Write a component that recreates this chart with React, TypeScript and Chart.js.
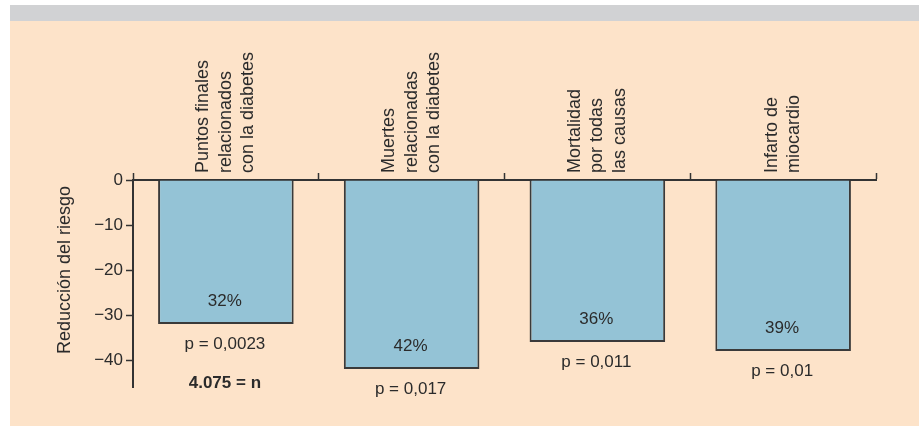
import React, { useEffect, useRef } from "react";
import { Chart, registerables } from "chart.js";

Chart.register(...registerables);

// ---- Data ----
const categories: string[][] = [
  ["Puntos finales", "relacionados", "con la diabetes"],
  ["Muertes", "relacionadas", "con la diabetes"],
  ["Mortalidad", "por todas", "las causas"],
  ["Infarto de", "miocardio"],
];
const riskReduction: number[] = [-32, -42, -36, -38];
const pctLabels: string[] = ["32%", "42%", "36%", "39%"];
const pValues: string[] = ["p = 0,0023", "p = 0,017", "p = 0,011", "p = 0,01"];
const nLabel = "4.075 = n";
const yTicks: number[] = [0, -10, -20, -30, -40];
const yMin = -46;
const yMax = 0;
const yTitle = "Reducción del riesgo";

const TEXT = "#2b2b2b";
const AXIS = "#333333";
const BAR_FILL = "#94c3d6";
const BAR_BORDER = "#3a3a3a";
const BEIGE = "#fde3c9";
const GRAY = "#d1d2d4";
const FONT = '"Liberation Sans", Arial, Helvetica, sans-serif';

export default function App() {
  const ref = useRef<HTMLCanvasElement>(null);

  useEffect(() => {
    const canvas = ref.current;
    if (!canvas) return;

    const annotations = {
      id: "annotations",
      afterDatasetsDraw(chart: any) {
        const c = chart.ctx as CanvasRenderingContext2D;
        const meta = chart.getDatasetMeta(0);
        c.save();
        c.fillStyle = TEXT;
        c.textAlign = "center";
        c.textBaseline = "middle";
        meta.data.forEach((el: any, i: number) => {
          const x = el.x - 1;
          const y = el.y;
          c.font = `17px ${FONT}`;
          c.fillText(pctLabels[i], x, y - 23);
          c.fillText(pValues[i], x, y + 20);
          if (i === 0) {
            c.font = `bold 17px ${FONT}`;
            c.fillText(nLabel, x, y + 59);
          }
        });
        c.restore();
      },
      afterDraw(chart: any) {
        const c = chart.ctx as CanvasRenderingContext2D;
        const xs = chart.scales.x;
        const area = chart.chartArea;
        const lh = 22.5;
        c.save();
        c.fillStyle = TEXT;
        c.font = `18px ${FONT}`;
        c.textAlign = "left";
        c.textBaseline = "middle";
        categories.forEach((lines, i) => {
          const cx = xs.getPixelForValue(i);
          const n = lines.length;
          lines.forEach((line, j) => {
            const lx = cx + (j - (n - 1) / 2) * lh;
            c.save();
            c.translate(lx, area.top - 7);
            c.rotate(-Math.PI / 2);
            c.fillText(line, 0, 0);
            c.restore();
          });
        });
        // y axis title
        c.save();
        c.textAlign = "center";
        c.translate(65, 270);
        c.rotate(-Math.PI / 2);
        c.fillText(yTitle, 0, 0);
        c.restore();
        c.restore();
      },
    };

    const chart = new Chart(canvas, {
      type: "bar",
      data: {
        labels: categories.map((l) => l.join(" ")),
        datasets: [
          {
            data: riskReduction,
            backgroundColor: BAR_FILL,
            borderColor: BAR_BORDER,
            borderWidth: 2,
            borderSkipped: "start",
            barPercentage: 0.73,
            categoryPercentage: 1,
          },
        ],
      },
      options: {
        responsive: false,
        animation: false,
        layout: { padding: { top: 173, left: 0, right: 45, bottom: 39 } },
        plugins: {
          legend: { display: false },
          tooltip: { enabled: false },
          title: { display: false },
        },
        scales: {
          x: {
            position: "top",
            offset: true,
            grid: {
              offset: true,
              drawOnChartArea: false,
              drawTicks: true,
              tickLength: 7,
              tickColor: AXIS,
              tickWidth: 1.5,
            },
            border: { display: true, color: AXIS, width: 2 },
            ticks: { display: false },
          },
          y: {
            min: yMin,
            max: yMax,
            afterBuildTicks: (scale: any) => {
              scale.ticks = yTicks.map((v) => ({ value: v }));
            },
            afterFit: (scale: any) => {
              scale.width = 133;
            },
            grid: {
              drawOnChartArea: false,
              drawTicks: true,
              tickLength: 7,
              tickColor: AXIS,
              tickWidth: 1.5,
            },
            border: { display: true, color: AXIS, width: 2 },
            ticks: {
              padding: 3,
              color: TEXT,
              font: { family: FONT, size: 17 },
              callback: (v: any) => (Number(v) < 0 ? "\u2212" + Math.abs(Number(v)) : String(v)),
            },
          },
        },
      },
      plugins: [annotations],
    });

    return () => chart.destroy();
  }, []);

  return (
    <div
      style={{
        position: "fixed",
        left: 0,
        top: 0,
        width: 921,
        height: 426,
        background: "#ffffff",
        overflow: "hidden",
      }}
    >
      <div style={{ position: "absolute", left: 10, top: 5, width: 909, height: 16, background: GRAY }} />
      <div style={{ position: "absolute", left: 10, top: 21, width: 909, height: 405, background: BEIGE }} />
      <canvas
        ref={ref}
        width={921}
        height={426}
        style={{ position: "absolute", left: 0, top: 0, width: 921, height: 426 }}
      />
    </div>
  );
}
